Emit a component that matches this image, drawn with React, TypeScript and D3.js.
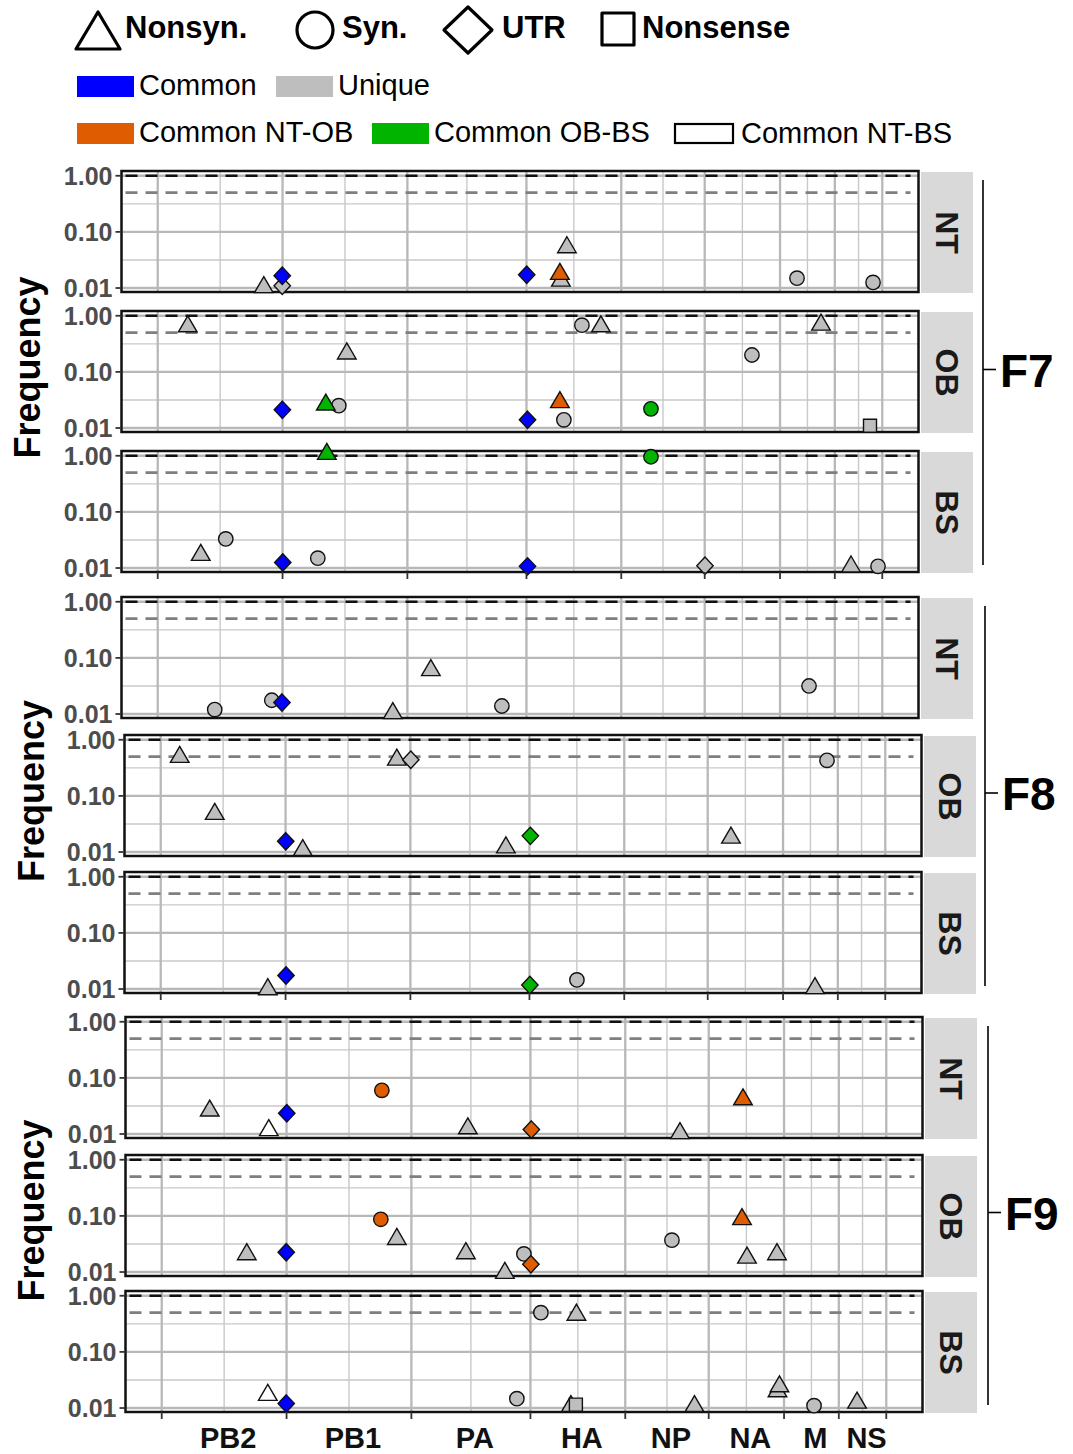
import React from "react";
import * as d3 from "d3";

// ---------------- data ----------------
const segments = ["PB2", "PB1", "PA", "HA", "NP", "NA", "M", "NS"];
const segmentLengths = [2341, 2341, 2233, 1778, 1565, 1413, 1027, 890];
const groupNames = ["F7", "F8", "F9"];
const tissueNames = ["NT", "OB", "BS"];
const yTickValues = [0.01, 0.1, 1];
const yTickLabels = ["0.01", "0.10", "1.00"];
const shapeTypes = ["Nonsyn.", "Syn.", "UTR", "Nonsense"];
const classNames = ["Common", "Unique", "Common NT-OB", "Common OB-BS", "Common NT-BS"];
const classColors = ["#0000FF", "#BEBEBE", "#E05C00", "#00B400", "#FFFFFF"];

// [genome position (concatenated segments), frequency, mutation type, sharing class]
type V = [number, number, string, string];

const f7NT: V[] = [
  [1989, 0.0115, "Nonsyn.", "Unique"],
  [2335, 0.011, "UTR", "Unique"],
  [2335, 0.0166, "UTR", "Common"],
  [6920, 0.0173, "UTR", "Common"],
  [7674, 0.059, "Nonsyn.", "Unique"],
  [7561, 0.015, "Nonsyn.", "Unique"],
  [7542, 0.0198, "Nonsyn.", "Common NT-OB"],
  [11989, 0.015, "Syn.", "Unique"],
  [13415, 0.0126, "Syn.", "Unique"],
];
const f7OB: V[] = [
  [563, 0.72, "Nonsyn.", "Unique"],
  [3546, 0.236, "Nonsyn.", "Unique"],
  [2338, 0.0211, "UTR", "Common"],
  [3396, 0.025, "Syn.", "Unique"],
  [3152, 0.029, "Nonsyn.", "Common OB-BS"],
  [6935, 0.014, "UTR", "Common"],
  [7955, 0.68, "Syn.", "Unique"],
  [8311, 0.72, "Nonsyn.", "Unique"],
  [7542, 0.032, "Nonsyn.", "Common NT-OB"],
  [7617, 0.014, "Syn.", "Unique"],
  [9250, 0.022, "Syn.", "Common OB-BS"],
  [11144, 0.2, "Syn.", "Unique"],
  [12439, 0.77, "Nonsyn.", "Unique"],
  [13358, 0.011, "Nonsense", "Unique"],
];
const f7BS: V[] = [
  [3171, 1.2, "Nonsyn.", "Common OB-BS"],
  [807, 0.019, "Nonsyn.", "Unique"],
  [1276, 0.033, "Syn.", "Unique"],
  [2345, 0.0126, "UTR", "Common"],
  [3002, 0.015, "Syn.", "Unique"],
  [6935, 0.0107, "UTR", "Common"],
  [9250, 0.96, "Syn.", "Common OB-BS"],
  [10263, 0.011, "UTR", "Unique"],
  [13002, 0.0118, "Nonsyn.", "Unique"],
  [13508, 0.0107, "Syn.", "Unique"],
];
const f8NT: V[] = [
  [1069, 0.012, "Syn.", "Unique"],
  [2139, 0.0176, "Syn.", "Unique"],
  [2330, 0.016, "UTR", "Common"],
  [4409, 0.0115, "Nonsyn.", "Unique"],
  [5122, 0.067, "Nonsyn.", "Unique"],
  [6454, 0.0139, "Syn.", "Unique"],
  [12214, 0.0316, "Syn.", "Unique"],
];
const f8OB: V[] = [
  [356, 0.55, "Nonsyn.", "Unique"],
  [1013, 0.053, "Nonsyn.", "Unique"],
  [2345, 0.0155, "UTR", "Common"],
  [2664, 0.012, "Nonsyn.", "Unique"],
  [4428, 0.49, "Nonsyn.", "Unique"],
  [4690, 0.44, "UTR", "Unique"],
  [6473, 0.0134, "Nonsyn.", "Unique"],
  [6932, 0.0194, "UTR", "Common OB-BS"],
  [10694, 0.02, "Nonsyn.", "Unique"],
  [12495, 0.43, "Syn.", "Unique"],
];
const f8BS: V[] = [
  [2008, 0.011, "Nonsyn.", "Unique"],
  [2350, 0.0174, "UTR", "Common"],
  [6923, 0.0118, "UTR", "Common OB-BS"],
  [7805, 0.0145, "Syn.", "Unique"],
  [12270, 0.0115, "Nonsyn.", "Unique"],
];
const f9NT: V[] = [
  [900, 0.029, "Nonsyn.", "Unique"],
  [2008, 0.013, "Nonsyn.", "Common NT-BS"],
  [2345, 0.0235, "UTR", "Common"],
  [4128, 0.06, "Syn.", "Common NT-OB"],
  [5741, 0.014, "Nonsyn.", "Unique"],
  [6932, 0.012, "UTR", "Common NT-OB"],
  [9719, 0.0115, "Nonsyn.", "Unique"],
  [10901, 0.046, "Nonsyn.", "Common NT-OB"],
];
const f9OB: V[] = [
  [1595, 0.023, "Nonsyn.", "Unique"],
  [2335, 0.0225, "UTR", "Common"],
  [4109, 0.087, "Syn.", "Common NT-OB"],
  [4409, 0.043, "Nonsyn.", "Unique"],
  [5704, 0.024, "Nonsyn.", "Unique"],
  [6435, 0.0107, "Nonsyn.", "Unique"],
  [6792, 0.021, "Syn.", "Unique"],
  [6923, 0.0138, "UTR", "Common NT-OB"],
  [9568, 0.037, "Syn.", "Unique"],
  [10882, 0.097, "Nonsyn.", "Common NT-OB"],
  [10976, 0.02, "Nonsyn.", "Unique"],
  [11538, 0.023, "Nonsyn.", "Unique"],
];
const f9BS: V[] = [
  [1989, 0.019, "Nonsyn.", "Common NT-BS"],
  [2335, 0.012, "UTR", "Common"],
  [6660, 0.0147, "Syn.", "Unique"],
  [7111, 0.5, "Syn.", "Unique"],
  [7777, 0.51, "Nonsyn.", "Unique"],
  [7673, 0.012, "Nonsyn.", "Unique"],
  [7767, 0.0115, "Nonsense", "Unique"],
  [9991, 0.012, "Nonsyn.", "Unique"],
  [11548, 0.022, "Nonsyn.", "Unique"],
  [11585, 0.027, "Nonsyn.", "Unique"],
  [12233, 0.011, "Syn.", "Unique"],
  [13040, 0.0138, "Nonsyn.", "Unique"],
];

// ---------------- layout ----------------
const FONT = "'Liberation Sans', Arial, Helvetica, sans-serif";
const PW = 797;
const PH = 121;
const panels = [
  { g: "F7", t: "NT", left: 121.5, top: 171, data: f7NT },
  { g: "F7", t: "OB", left: 121.5, top: 311, data: f7OB },
  { g: "F7", t: "BS", left: 121.5, top: 451, data: f7BS },
  { g: "F8", t: "NT", left: 121.5, top: 597, data: f8NT },
  { g: "F8", t: "OB", left: 124.5, top: 735, data: f8OB },
  { g: "F8", t: "BS", left: 124.5, top: 872, data: f8BS },
  { g: "F9", t: "NT", left: 125.5, top: 1017, data: f9NT },
  { g: "F9", t: "OB", left: 125.5, top: 1155, data: f9OB },
  { g: "F9", t: "BS", left: 125.5, top: 1291, data: f9BS },
];
const groupLayout = [
  { g: "F7", bracketX: 983, freqX: 40 },
  { g: "F8", bracketX: 985, freqX: 44 },
  { g: "F9", bracketX: 988, freqX: 44 },
];

const boundaries = [0, ...d3.cumsum(segmentLengths)];
const genomeLength = boundaries[boundaries.length - 1];
const midpoints = segmentLengths.map((l, i) => boundaries[i] + l / 2);
const pad = genomeLength * 0.05;

function shapePath(type: string): string {
  switch (type) {
    case "Nonsyn.":
      return "M0,-8L9.3,8L-9.3,8Z";
    case "Syn.":
      return "M7.2,0A7.2,7.2 0 1,1 -7.2,0A7.2,7.2 0 1,1 7.2,0Z";
    case "UTR":
      return "M0,-8.7L8.2,0L0,8.7L-8.2,0Z";
    default:
      return "M-6.5,-6.5H6.5V6.5H-6.5Z";
  }
}
const colorScale = d3.scaleOrdinal<string, string>().domain(classNames).range(classColors);

function Panel({ p }: { p: typeof panels[number] }) {
  const x = d3.scaleLinear().domain([-pad, genomeLength + pad]).range([p.left, p.left + PW]);
  const y = d3
    .scaleLog()
    .domain([Math.pow(10, -2.071), Math.pow(10, 0.085)])
    .range([p.top + PH, p.top]);
  const minorY = [Math.pow(10, -1.5), Math.pow(10, -0.5)];
  const right = p.left + PW;
  const sx = right + 2.5;
  const sw = 52;
  return (
    <g>
      <rect x={p.left} y={p.top} width={PW} height={PH} fill="#fff" />
      {minorY.map((v, i) => (
        <line key={"my" + i} x1={p.left} x2={right} y1={y(v)} y2={y(v)} stroke="#c9c9c9" strokeWidth={1.4} />
      ))}
      {midpoints.map((v, i) => (
        <line key={"mx" + i} x1={x(v)} x2={x(v)} y1={p.top} y2={p.top + PH} stroke="#c9c9c9" strokeWidth={1.4} />
      ))}
      {yTickValues.map((v, i) => (
        <line key={"gy" + i} x1={p.left} x2={right} y1={y(v)} y2={y(v)} stroke="#b8b8b8" strokeWidth={2.3} />
      ))}
      {boundaries.map((v, i) => (
        <line key={"gx" + i} x1={x(v)} x2={x(v)} y1={p.top} y2={p.top + PH} stroke="#b8b8b8" strokeWidth={2.3} />
      ))}
      <line x1={p.left + 4} x2={right - 8} y1={y(0.5)} y2={y(0.5)} stroke="#7f7f7f" strokeWidth={2.6} strokeDasharray="12 8" />
      <line x1={p.left + 4} x2={right - 8} y1={y(1)} y2={y(1)} stroke="#111" strokeWidth={2.6} strokeDasharray="12 8" />
      <rect x={p.left} y={p.top} width={PW} height={PH} fill="none" stroke="#111" strokeWidth={2.5} />
      {p.data.map((d, i) => (
        <path
          key={"pt" + i}
          d={shapePath(d[2])}
          transform={`translate(${x(d[0])},${y(d[1])})`}
          fill={colorScale(d[3])}
          stroke="#111"
          strokeWidth={1.4}
        />
      ))}
      {/* strip */}
      <rect x={sx} y={p.top + 1} width={sw} height={PH} fill="#D9D9D9" />
      <text
        transform={`translate(${sx + sw / 2 - 11.5},${p.top + PH / 2 + 1}) rotate(90)`}
        textAnchor="middle"
        fontFamily={FONT}
        fontWeight="bold"
        fontSize={32}
        fill="#1a1a1a"
      >
        {p.t}
      </text>
      {/* y axis */}
      {yTickValues.map((v, i) => (
        <g key={"yt" + i}>
          <line x1={p.left - 6} x2={p.left} y1={y(v)} y2={y(v)} stroke="#333" strokeWidth={1.8} />
          <text
            x={p.left - 9}
            y={y(v)}
            dy="0.36em"
            textAnchor="end"
            fontFamily={FONT}
            fontWeight="bold"
            fontSize={25}
            fill="#4D4D4D"
          >
            {yTickLabels[i]}
          </text>
        </g>
      ))}
      {p.t === "BS" &&
        boundaries.map((v, i) => (
          <line key={"xt" + i} x1={x(v)} x2={x(v)} y1={p.top + PH} y2={p.top + PH + 7} stroke="#333" strokeWidth={1.8} />
        ))}
      {p.g === "F9" &&
        p.t === "BS" &&
        segments.map((s, i) => (
          <text
            key={"xl" + i}
            x={x(midpoints[i]) + 4}
            y={1448}
            textAnchor="middle"
            fontFamily={FONT}
            fontWeight="bold"
            fontSize={29}
            fill="#111"
          >
            {s}
          </text>
        ))}
    </g>
  );
}

function Legend() {
  const shapeItems = [
    { x: 98, tx: 125 },
    { x: 315, tx: 342 },
    { x: 468, tx: 502 },
    { x: 618, tx: 642 },
  ];
  const bigShape = (t: string, cx: number) => {
    if (t === "Nonsyn.") return <path d={`M${cx},12L${cx + 22},49L${cx - 22},49Z`} />;
    if (t === "Syn.") return <circle cx={cx} cy={30} r={18} />;
    if (t === "UTR") return <path d={`M${cx},7L${cx + 24},30L${cx},53L${cx - 24},30Z`} />;
    return <rect x={cx - 16} y={13} width={32} height={32} />;
  };
  const colorItems = [
    { cls: "Common", rx: 77, y: 76 },
    { cls: "Unique", rx: 276, y: 76 },
    { cls: "Common NT-OB", rx: 77, y: 123 },
    { cls: "Common OB-BS", rx: 372, y: 123 },
    { cls: "Common NT-BS", rx: 675, y: 124 },
  ];
  return (
    <g>
      {shapeTypes.map((t, i) => (
        <g key={t}>
          <g fill="none" stroke="#000" strokeWidth={3.2} strokeLinejoin="round">
            {bigShape(t, shapeItems[i].x)}
          </g>
          <text x={shapeItems[i].tx} y={38} fontFamily={FONT} fontWeight="bold" fontSize={31} fill="#000">
            {t}
          </text>
        </g>
      ))}
      {colorItems.map((c) => {
        const white = c.cls === "Common NT-BS";
        return (
          <g key={c.cls}>
            <rect
              x={c.rx}
              y={c.y}
              width={white ? 58 : 57}
              height={white ? 19 : 21}
              fill={colorScale(c.cls)}
              stroke={white ? "#000" : "none"}
              strokeWidth={white ? 2.2 : 0}
            />
            <text x={c.rx + (white ? 66 : 62)} y={c.y + 19} fontFamily={FONT} fontSize={29} fill="#000">
              {c.cls}
            </text>
          </g>
        );
      })}
    </g>
  );
}

export default function App() {
  return (
    <svg
      width={1073}
      height={1454}
      viewBox="0 0 1073 1454"
      style={{ position: "absolute", left: 0, top: 0, background: "#fff" }}
    >
      <rect x={0} y={0} width={1073} height={1454} fill="#fff" />
      <Legend />
      {panels.map((p, i) => (
        <Panel key={i} p={p} />
      ))}
      {groupNames.map((g, gi) => {
        const ps = panels.filter((p) => p.g === g);
        const top = ps[0].top;
        const bottom = ps[ps.length - 1].top + PH;
        const mid = (top + bottom) / 2;
        const gl = groupLayout[gi];
        return (
          <g key={g}>
            <line x1={gl.bracketX} x2={gl.bracketX} y1={top + 9} y2={bottom - 7} stroke="#000" strokeWidth={1.6} />
            <line x1={gl.bracketX} x2={gl.bracketX + 13} y1={mid - 2} y2={mid - 2} stroke="#000" strokeWidth={1.6} />
            <text x={gl.bracketX + 17} y={mid + 15} fontFamily={FONT} fontWeight="bold" fontSize={46} fill="#000">
              {g}
            </text>
            <text
              transform={`translate(${gl.freqX},${mid - 4}) rotate(-90)`}
              textAnchor="middle"
              fontFamily={FONT}
              fontWeight="bold"
              fontSize={36}
              fill="#000"
            >
              Frequency
            </text>
          </g>
        );
      })}
    </svg>
  );
}
